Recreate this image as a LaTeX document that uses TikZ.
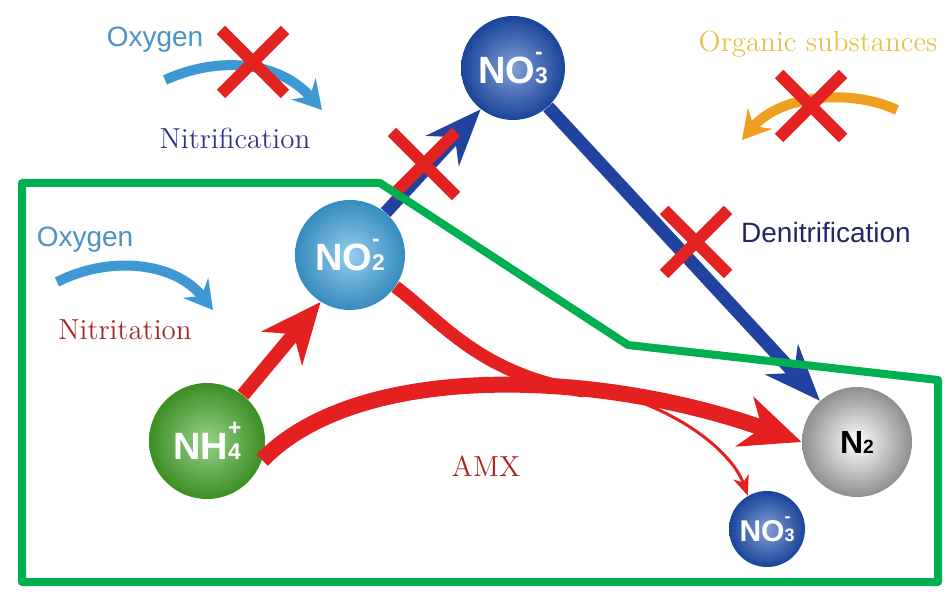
\documentclass[tikz,border=0pt]{standalone}
\usepackage{fontspec}
\usepackage{graphicx}
\setsansfont{Liberation Sans}
\usetikzlibrary{arrows.meta}
\definecolor{crossred}{HTML}{E32222}
\definecolor{flowred}{HTML}{E52020}
\definecolor{flowblue}{HTML}{2242A0}
\definecolor{skyblue}{HTML}{3E98D3}
\definecolor{organic}{HTML}{F0A020}
\definecolor{organictext}{HTML}{E4C24A}
\definecolor{frame}{HTML}{00B050}
\definecolor{nitrate}{HTML}{1E50B4}
\definecolor{nitrite}{HTML}{3FA4E0}
\definecolor{ammonium}{HTML}{46A82A}
\definecolor{nitrogen}{HTML}{A8A8A8}
\newcommand{\ionlabel}[3]{#1\rlap{\raisebox{0.62em}{\scalebox{0.6}{#3}}}\scalebox{0.6}{#2}}

\begin{document}
\begin{tikzpicture}[x=0.5pt,y=-0.5pt,
    ion/.style={circle,shading=radial,inner color=#1!55!white,outer color=#1!85!black,
      inner sep=0pt,text=white,font=\sffamily\bfseries\fontsize{19}{19}\selectfont},
    cross/.style={crossred,line width=6pt},
    label/.style={font=\fontsize{14.5}{16}\selectfont},
    sanslabel/.style={font=\sffamily\fontsize{14}{16}\selectfont},
    redflow/.style={flowred,line width=7pt,-{Stealth[length=30pt,width=26pt,inset=9pt]}},
    blueflow/.style={flowblue,line width=6.5pt,-{Stealth[length=28pt,width=22pt,inset=9pt]}},
    curlyarrow/.style={line width=5pt,-{Stealth[length=14pt,width=16pt,inset=5pt]}}]
    \useasboundingbox (0,0) rectangle (947,592);

    \node[ion=nitrate,minimum size=52pt] (no3top) at (513,68) {\ionlabel{NO}{3}{-}};
    \node[ion=nitrite,minimum size=55pt] (no2) at (350,255) {\ionlabel{NO}{2}{-}};
    \node[ion=ammonium,minimum size=58pt] (nh4) at (207,441) {\ionlabel{NH}{4}{+}};
    \node[ion=nitrogen,minimum size=55pt,inner color=white,text=black,font=\sffamily\bfseries\fontsize{16}{16}\selectfont] (n2) at (857,442) {\ionlabel{N}{2}{}};
    \node[ion=nitrate,minimum size=38pt,font=\sffamily\bfseries\fontsize{15}{15}\selectfont] (no3bot) at (767,529) {\ionlabel{NO}{3}{-}};

    \node[sanslabel,text=skyblue!80!gray] (oxtop) at (155,40) {Oxygen};
    \node[label,text=blue!45!black!80] (nitrif) at (235,138) {Nitrification};
    \node[label,text=organictext] (org) at (818,44) {Organic substances};
    \node[sanslabel,text=skyblue!80!gray] (oxlow) at (85,240) {Oxygen};
    \node[label,text=red!55!black!85] (nitrit) at (125,330) {Nitritation};
    \node[sanslabel,text=blue!30!black!85] (denit) at (826,232) {Denitrification};
    \node[label,text=red!60!black!85] (amx) at (486,466) {AMX};

    \draw[curlyarrow,skyblue] (165,80) .. controls (220,55) and (280,62) .. (322,110);
    \draw[curlyarrow,skyblue] (57,282) .. controls (110,255) and (175,262) .. (213,310);
    \draw[curlyarrow,organic] (897,110) .. controls (850,88) and (780,95) .. (742,140);

    \coordinate (merge) at (584,391);
    \coordinate (split) at (640,402);
    \draw[blueflow] (no2.50) -- (no3top.232);
    \draw[blueflow] (no3top.-48) -- (n2.132);
    \draw[redflow] (nh4.52) -- (no2.238);
    \draw[flowred,line width=6.5pt] (no2.-35) .. controls (440,320) and (480,375) .. (merge);
    \draw[redflow,line width=8pt] (nh4.-19) .. controls (360,360) and (600,370) .. (n2.180);
    \draw[flowred,line width=1.5pt,-{Stealth[length=10pt,width=8pt,inset=3pt]}] (split) .. controls (700,425) and (735,460) .. (no3bot.120);

    \foreach \p in {(253,62),(424,164),(696,242),(811,106)}
        \draw[cross] \p ++(-32,-32) -- ++(64,64) ++(0,-64) -- ++(-64,64);

    \draw[frame,line width=4pt,line join=round] (22,183) -- (380,183) -- (628,345) -- (938,380) -- (938,582) -- (22,582) -- cycle;
\end{tikzpicture}
\end{document}
